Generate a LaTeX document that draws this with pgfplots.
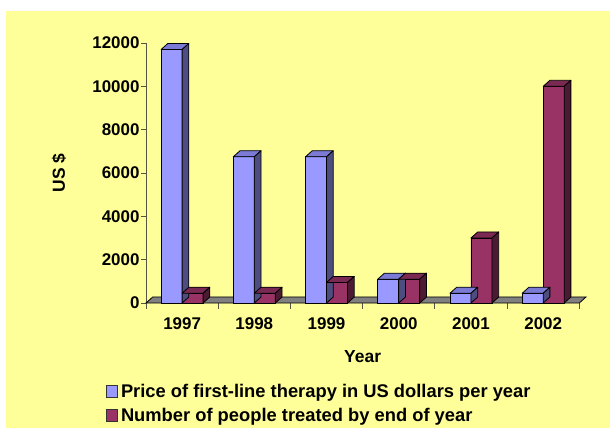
\documentclass[border=0pt]{standalone}
\usepackage{pgfplots}
\pgfplotsset{compat=1.18}
\usepackage{fontspec}
\setmainfont{Liberation Sans}
\definecolor{bg}{HTML}{FFFF99}
\definecolor{bluefront}{HTML}{9999FF}
\definecolor{bluetop}{HTML}{7B7BD6}
\definecolor{blueside}{HTML}{4D4D80}
\definecolor{maroonfront}{HTML}{993366}
\definecolor{maroontop}{HTML}{7A2952}
\definecolor{maroonside}{HTML}{4D1A33}
\definecolor{floorgray}{HTML}{808080}
\definecolor{axisgray}{HTML}{555544}
\pgfdeclareplotmark{nothing}{}
% 3D top and side faces drawn at each data point (x = category centre, y = value)
\newcommand\boxfaces[3]{%
  \begingroup\pgfkeys{/pgf/fpu=true,/pgf/fpu/output format=fixed}%
  \pgfmathparse{\rawy*260/12000}\global\let\hh\pgfmathresult\endgroup
  \filldraw[fill=#2,draw=black,line width=0.8bp,line join=round]
    (#1bp,0bp) -- ++(6.7bp,6bp) -- ++(21bp,0bp) -- ++(-6.7bp,-6bp) -- cycle;
  \filldraw[fill=#3,draw=black,line width=0.8bp,line join=round]
    (#1bp+21bp,0bp) -- ++(6.7bp,6bp) -- ++(0bp,-\hh bp) -- ++(-6.7bp,-6bp) -- cycle;
}
\pgfplotstableread{
x y
0 11700
1 6750
2 6750
3 1100
4 450
5 450
}\pricedata
\pgfplotstableread{
x y
0 450
1 450
2 950
3 1100
4 3000
5 10000
}\peopledata
\begin{document}
\begin{tikzpicture}
\path[use as bounding box, fill=white] (0bp,0bp) rectangle (610bp,428bp);
\fill[bg] (6bp,0bp) rectangle (610bp,417bp);
\begin{axis}[
  at={(146bp,125bp)}, anchor=south west,
  scale only axis, width=433.3bp, height=260bp,
  xmin=-0.5, xmax=5.5, ymin=0, ymax=12000,
  clip=false,
  axis lines*=left,
  x axis line style={draw=none},
  y axis line style={draw=axisgray, line width=0.8bp},
  xtick={0,1,2,3,4,5},
  xticklabels={1997,1998,1999,2000,2001,2002},
  minor xtick={-0.5,0.5,1.5,2.5,3.5,4.5,5.5},
  ytick={0,2000,4000,6000,8000,10000,12000},
  scaled y ticks=false,
  tick align=outside,
  major tick length=5bp, minor tick length=6bp,
  major x tick style={draw=none},
  minor x tick style={draw=axisgray, line width=0.8bp},
  major y tick style={draw=axisgray, line width=0.8bp},
  /pgf/number format/assume math mode=true,
  /pgf/number format/1000 sep={},
  ticklabel style={font=\bfseries\fontsize{17}{19}\selectfont},
  xticklabel style={yshift=-6bp},
  yticklabel style={xshift=2bp},
  xlabel={Year}, ylabel={US \$},
  label style={font=\bfseries\fontsize{17.5}{20}\selectfont},
  xlabel style={at={(axis description cs:0.5,-0.2077)}, anchor=center},
  ylabel style={at={(axis description cs:-0.2008,0.5)}, anchor=center},
  legend style={at={(axis description cs:-0.0923,-0.300)}, anchor=north west,
    draw=none, fill=none, inner sep=0pt, row sep=3.5bp,
    font=\bfseries\fontsize{18.4}{21}\selectfont,
    nodes={inner sep=3bp}},
  legend cell align=left,
]
% floor
\fill[floorgray, draw=black, line width=0.8bp]
  (axis cs:-0.5,0) -- ++(6.7bp,6bp) -- ([xshift=6.7bp,yshift=6bp]axis cs:5.5,0) -- (axis cs:5.5,0) -- cycle;
% price series
\addplot[scatter, only marks, mark=nothing, forget plot,
  visualization depends on={rawy \as \rawy},
  scatter/@pre marker code/.code={\boxfaces{-21}{bluetop}{blueside}},
  scatter/@post marker code/.code={}] table[x=x,y=y] {\pricedata};
\addplot[ybar, bar width=21bp, bar shift=-10.5bp, fill=bluefront, draw=black, line width=0.8bp,
  legend image code/.code={\draw[fill=bluefront, draw=black!80, line width=0.8bp] (0bp,-6bp) rectangle (11bp,6bp);}]
  table[x=x,y=y] {\pricedata};
\addlegendentry{Price of first-line therapy in US dollars per year}
% people series
\addplot[scatter, only marks, mark=nothing, forget plot,
  visualization depends on={rawy \as \rawy},
  scatter/@pre marker code/.code={\boxfaces{0}{maroontop}{maroonside}},
  scatter/@post marker code/.code={}] table[x=x,y=y] {\peopledata};
\addplot[ybar, bar width=21bp, bar shift=10.5bp, fill=maroonfront, draw=black, line width=0.8bp,
  legend image code/.code={\draw[fill=maroonfront, draw=black!80, line width=0.8bp] (0bp,-6bp) rectangle (11bp,6bp);}]
  table[x=x,y=y] {\peopledata};
\addlegendentry{Number of people treated by end of year}
\end{axis}
\end{tikzpicture}
\end{document}
